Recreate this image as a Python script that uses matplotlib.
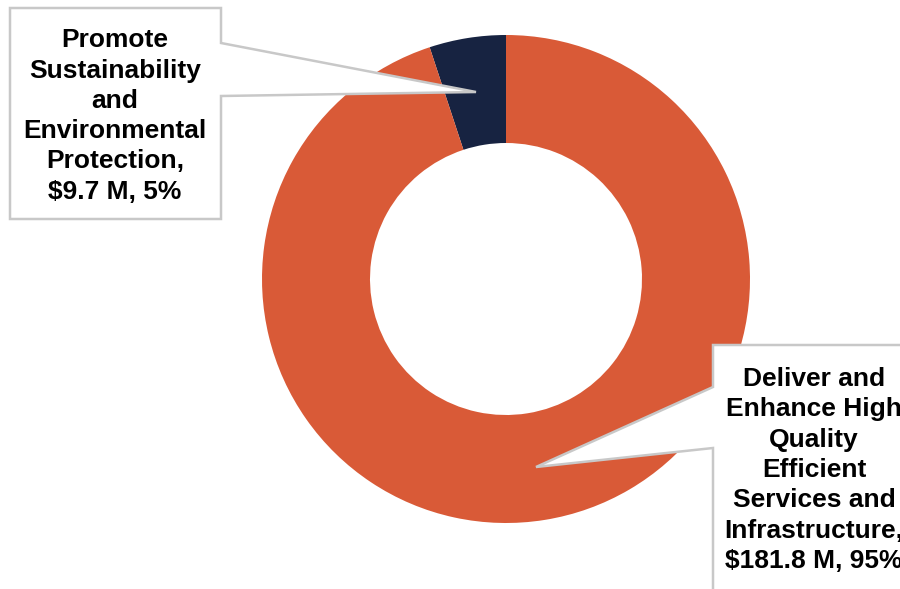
import matplotlib.pyplot as plt
from matplotlib.patches import Polygon

names = ['Promote\nSustainability\nand\nEnvironmental\nProtection',
         'Deliver and\nEnhance High\nQuality\nEfficient\nServices and\nInfrastructure']
values = [9.7, 181.8]
percents = [5, 95]
colors = ['#172341', '#D95A37']

H = 589

def flip(pts):
    return [(x, H - y) for x, y in pts]

fig = plt.figure(figsize=(9, 5.89), dpi=100)
ax = fig.add_axes([0, 0, 1, 1])
ax.pie(values, colors=colors, startangle=90, counterclock=True,
       center=(506, H - 279), radius=244,
       wedgeprops=dict(width=108, linewidth=0))
ax.set_xlim(0, 900)
ax.set_ylim(0, H)
ax.axis('off')

# callout boxes with pointers (image pixel coords)
left_box = [(10, 8), (221, 8), (221, 43), (476, 92), (221, 96), (221, 219), (10, 219)]
right_box = [(713, 345), (920, 345), (920, 610), (713, 610), (713, 448), (536, 467), (713, 387)]
for pts in (left_box, right_box):
    ax.add_patch(Polygon(flip(pts), closed=True, facecolor='white',
                         edgecolor='#C8C8C8', linewidth=1.8, zorder=3))

labels = [f'{n},\n\\${v} M, {p}%' for n, v, p in zip(names, values, percents)]
font = dict(family='Liberation Sans', weight='bold', fontsize=19,
            ha='center', va='center', linespacing=1.33, zorder=4)
ax.text(115, H - 116, labels[0], **font)
ax.text(814, H - 470, labels[1], **font)

fig.savefig('out.png', dpi=100)
